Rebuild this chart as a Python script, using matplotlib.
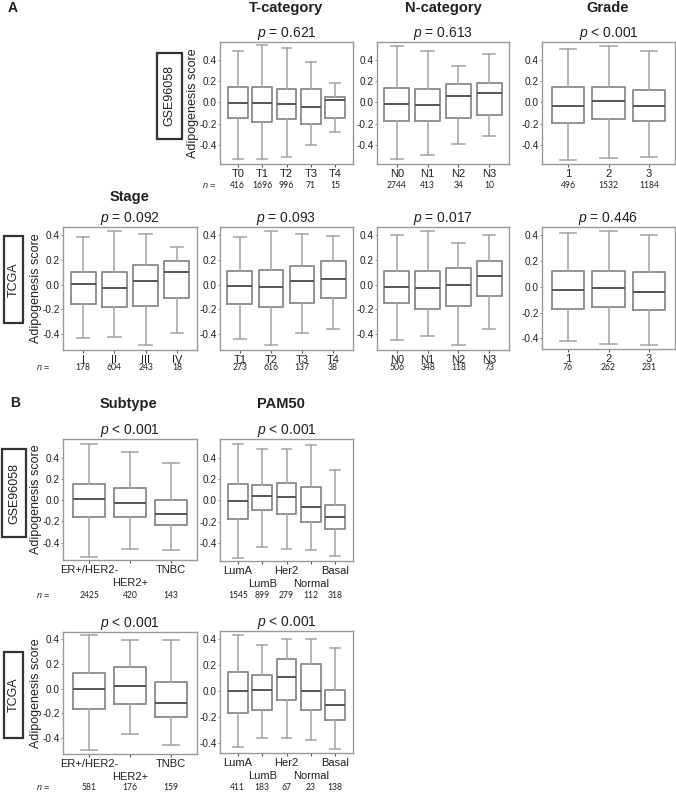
import matplotlib
matplotlib.use('Agg')
import matplotlib.pyplot as plt
from matplotlib.patches import Rectangle

plt.rcParams['font.family'] = ['Liberation Sans', 'DejaVu Sans']
plt.rcParams['mathtext.fontset'] = 'custom'
plt.rcParams['mathtext.it'] = 'Liberation Sans:italic'
plt.rcParams['mathtext.rm'] = 'Liberation Sans'

# ---------------- data ----------------
# GSE96058, panel A
gse_t_cats = ['T0', 'T1', 'T2', 'T3', 'T4']
gse_t_n = [416, 1696, 996, 71, 15]
gse_t_lo = [-0.535, -0.535, -0.516, -0.40, -0.28]
gse_t_q1 = [-0.143, -0.187, -0.158, -0.205, -0.149]
gse_t_med = [-0.008, -0.008, -0.017, -0.039, 0.022]
gse_t_q3 = [0.149, 0.143, 0.13, 0.124, 0.047]
gse_t_hi = [0.488, 0.538, 0.516, 0.384, 0.185]

gse_n_cats = ['N0', 'N1', 'N2', 'N3']
gse_n_n = [2744, 413, 34, 10]
gse_n_lo = [-0.535, -0.494, -0.39, -0.312]
gse_n_q1 = [-0.171, -0.171, -0.149, -0.114]
gse_n_med = [-0.011, -0.024, 0.058, 0.086]
gse_n_q3 = [0.14, 0.13, 0.174, 0.18]
gse_n_hi = [0.535, 0.488, 0.347, 0.46]

gse_g_cats = ['1', '2', '3']
gse_g_n = [496, 1532, 1184]
gse_g_lo = [-0.544, -0.519, -0.513]
gse_g_q1 = [-0.196, -0.155, -0.177]
gse_g_med = [-0.036, 0.011, -0.036]
gse_g_q3 = [0.146, 0.149, 0.115]
gse_g_hi = [0.504, 0.532, 0.488]

# TCGA, panel A
tcga_s_cats = ['I', 'II', 'III', 'IV']
tcga_s_n = [178, 604, 243, 18]
tcga_s_lo = [-0.43, -0.422, -0.489, -0.389]
tcga_s_q1 = [-0.158, -0.179, -0.171, -0.112]
tcga_s_med = [0.001, -0.026, 0.028, 0.098]
tcga_s_q3 = [0.104, 0.104, 0.158, 0.187]
tcga_s_hi = [0.381, 0.435, 0.405, 0.306]

tcga_t_cats = ['T1', 'T2', 'T3', 'T4']
tcga_t_n = [273, 616, 137, 38]
tcga_t_lo = [-0.438, -0.489, -0.389, -0.357]
tcga_t_q1 = [-0.16, -0.179, -0.147, -0.112]
tcga_t_med = [-0.009, -0.023, 0.028, 0.042]
tcga_t_q3 = [0.109, 0.114, 0.15, 0.187]
tcga_t_hi = [0.381, 0.435, 0.405, 0.389]

tcga_n_cats = ['N0', 'N1', 'N2', 'N3']
tcga_n_n = [506, 348, 118, 73]
tcga_n_lo = [-0.451, -0.416, -0.489, -0.357]
tcga_n_q1 = [-0.152, -0.198, -0.176, -0.09]
tcga_n_med = [-0.018, -0.028, -0.001, 0.071]
tcga_n_q3 = [0.106, 0.112, 0.133, 0.193]
tcga_n_hi = [0.403, 0.432, 0.338, 0.40]

tcga_g_cats = ['1', '2', '3']
tcga_g_n = [76, 262, 231]
tcga_g_lo = [-0.421, -0.441, -0.449]
tcga_g_q1 = [-0.173, -0.157, -0.178]
tcga_g_med = [-0.026, -0.01, -0.044]
tcga_g_q3 = [0.119, 0.119, 0.116]
tcga_g_hi = [0.413, 0.434, 0.40]

# panel B
sub_cats = ['ER+/HER2-', 'HER2+', 'TNBC']
pam_cats = ['LumA', 'LumB', 'Her2', 'Normal', 'Basal']

gse_sub_n = [2425, 420, 143]
gse_sub_lo = [-0.538, -0.456, -0.472]
gse_sub_q1 = [-0.155, -0.155, -0.231]
gse_sub_med = [0.008, -0.03, -0.127]
gse_sub_q3 = [0.149, 0.118, 0.005]
gse_sub_hi = [0.529, 0.453, 0.347]

gse_pam_n = [1545, 899, 279, 112, 318]
gse_pam_lo = [-0.538, -0.441, -0.456, -0.466, -0.519]
gse_pam_q1 = [-0.18, -0.089, -0.127, -0.199, -0.268]
gse_pam_med = [-0.008, 0.036, 0.027, -0.061, -0.152]
gse_pam_q3 = [0.149, 0.14, 0.158, 0.127, -0.042]
gse_pam_hi = [0.529, 0.478, 0.478, 0.522, 0.281]

tcga_sub_n = [581, 176, 159]
tcga_sub_lo = [-0.491, -0.365, -0.454]
tcga_sub_q1 = [-0.164, -0.121, -0.231]
tcga_sub_med = [0.0, 0.019, -0.113]
tcga_sub_q3 = [0.129, 0.174, 0.051]
tcga_sub_hi = [0.432, 0.395, 0.395]

tcga_pam_n = [411, 183, 67, 23, 138]
tcga_pam_lo = [-0.436, -0.364, -0.364, -0.379, -0.446]
tcga_pam_q1 = [-0.174, -0.145, -0.071, -0.145, -0.228]
tcga_pam_med = [-0.001, 0.004, 0.107, -0.001, -0.112]
tcga_pam_q3 = [0.143, 0.125, 0.248, 0.204, 0.006]
tcga_pam_hi = [0.433, 0.356, 0.397, 0.40, 0.331]

p_gse_a = ['= 0.621', '= 0.613', '< 0.001']
p_tcga_a = ['= 0.092', '= 0.093', '= 0.017', '= 0.446']
p_b = ['< 0.001', '< 0.001', '< 0.001', '< 0.001']

yticks = [-0.4, -0.2, 0.0, 0.2, 0.4]
ytick_labels = ['-0.4', '-0.2', '0.0', '0.2', '0.4']

# ---------------- styling ----------------
W, H = 676, 792
BOX = '#8a8a8a'
MED = '#555555'
WHIS = '#a9a9a9'
FRAME = '#9a9a9a'
TXT = '#222222'

fig = plt.figure(figsize=(W / 100, H / 100), dpi=100)


def make_ax(l, t, r, b):
    return fig.add_axes([l / W, 1 - b / H, (r - l) / W, (b - t) / H])


def panel(rect, cats, n, lo, q1, med, q3, hi, ylim, ptxt, nofs,
          stagger=False, ylabel=False):
    ax = make_ax(*rect)
    stats = [dict(med=m, q1=a, q3=b, whislo=l, whishi=h, fliers=[])
             for l, a, m, b, h in zip(lo, q1, med, q3, hi)]
    k = len(cats)
    pos = list(range(1, k + 1))
    ax.bxp(stats, positions=pos, widths=0.8, capwidths=0.4, showfliers=False,
           boxprops=dict(color=BOX, lw=1.3),
           medianprops=dict(color=MED, lw=1.4),
           whiskerprops=dict(color=WHIS, lw=1.2),
           capprops=dict(color=WHIS, lw=1.2), manage_ticks=False)
    m = 0.73 if k == 5 else 0.64
    ax.set_xlim(1 - m, k + m)
    ax.set_ylim(*ylim)
    ax.set_xticks(pos)
    tr = ax.get_xaxis_transform()
    if stagger:
        labs = [c if i % 2 == 0 else '' for i, c in enumerate(cats)]
        for i, c in enumerate(cats):
            if i % 2 == 1:
                ax.annotate(c, xy=(pos[i], 0), xycoords=tr, xytext=(0, -23),
                            textcoords='offset pixels', ha='center',
                            va='center', fontsize=8, color=TXT,
                            annotation_clip=False)
    else:
        labs = cats
    ax.set_xticklabels(labs, fontsize=8, color=TXT)
    ax.set_yticks(yticks)
    ax.set_yticklabels(ytick_labels, fontsize=7.2, color=TXT)
    ax.tick_params(axis='x', length=2.2, width=0.8, color='#555555', pad=1.2)
    ax.tick_params(axis='y', length=1.5, width=0.6, color='#777777', pad=1.0)
    for s in ax.spines.values():
        s.set_color(FRAME)
        s.set_linewidth(1.0)
    ax.set_title(r'$p$ ' + ptxt, fontsize=10, pad=2.8, color=TXT)
    for i, v in enumerate(n):
        ax.annotate(str(v), xy=(pos[i], 0), xycoords=tr, xytext=(0, -nofs),
                    textcoords='offset pixels', ha='center', va='center',
                    fontsize=6.2, family=['Lato', 'DejaVu Sans'], color=TXT,
                    annotation_clip=False)
    if ylabel:
        ax.set_ylabel('Adipogenesis score', fontsize=9, color=TXT)
        ax.yaxis.set_label_coords(-0.16, 0.5)
    return ax


def ftext(x, y, s, **kw):
    fig.text(x / W, 1 - y / H, s, **kw)


def label_box(l, t, r, b, s):
    fig.add_artist(Rectangle((l / W, 1 - b / H), (r - l) / W, (b - t) / H,
                             transform=fig.transFigure, fill=False,
                             edgecolor='#333333', lw=1.6))
    ftext((l + r) / 2, (t + b) / 2, s, rotation=90, ha='center', va='center',
          fontsize=9, color=TXT)


def n_eq(x, y):
    ftext(x, y, r'$n$ =', fontsize=6.5, ha='center', va='center', color=TXT)


# Row 1: GSE96058 (A)
panel((220, 42, 353, 164), gse_t_cats, gse_t_n, gse_t_lo, gse_t_q1, gse_t_med,
      gse_t_q3, gse_t_hi, (-0.579, 0.569), p_gse_a[0], 21, ylabel=True)
panel((377, 42, 509, 164), gse_n_cats, gse_n_n, gse_n_lo, gse_n_q1, gse_n_med,
      gse_n_q3, gse_n_hi, (-0.579, 0.569), p_gse_a[1], 21)
panel((542, 42, 675, 164), gse_g_cats, gse_g_n, gse_g_lo, gse_g_q1, gse_g_med,
      gse_g_q3, gse_g_hi, (-0.579, 0.569), p_gse_a[2], 21)

# Row 2: TCGA (A)
panel((63, 227, 197, 350), tcga_s_cats, tcga_s_n, tcga_s_lo, tcga_s_q1,
      tcga_s_med, tcga_s_q3, tcga_s_hi, (-0.529, 0.465), p_tcga_a[0], 18,
      ylabel=True)
panel((220, 227, 353, 350), tcga_t_cats, tcga_t_n, tcga_t_lo, tcga_t_q1,
      tcga_t_med, tcga_t_q3, tcga_t_hi, (-0.529, 0.465), p_tcga_a[1], 18)
panel((377, 227, 509, 350), tcga_n_cats, tcga_n_n, tcga_n_lo, tcga_n_q1,
      tcga_n_med, tcga_n_q3, tcga_n_hi, (-0.529, 0.465), p_tcga_a[2], 18)
panel((542, 227, 675, 349), tcga_g_cats, tcga_g_n, tcga_g_lo, tcga_g_q1,
      tcga_g_med, tcga_g_q3, tcga_g_hi, (-0.482, 0.462), p_tcga_a[3], 18)

# Row 3: GSE96058 (B)
panel((63, 439, 197, 560), sub_cats, gse_sub_n, gse_sub_lo, gse_sub_q1,
      gse_sub_med, gse_sub_q3, gse_sub_hi, (-0.563, 0.576), p_b[0], 35,
      stagger=True, ylabel=True)
panel((220, 439, 353, 561), pam_cats, gse_pam_n, gse_pam_lo, gse_pam_q1,
      gse_pam_med, gse_pam_q3, gse_pam_hi, (-0.57, 0.576), p_b[1], 34,
      stagger=True)

# Row 4: TCGA (B)
panel((63, 632, 197, 754), sub_cats, tcga_sub_n, tcga_sub_lo, tcga_sub_q1,
      tcga_sub_med, tcga_sub_q3, tcga_sub_hi, (-0.526, 0.456), p_b[2], 33,
      stagger=True, ylabel=True)
panel((220, 631, 353, 753), pam_cats, tcga_pam_n, tcga_pam_lo, tcga_pam_q1,
      tcga_pam_med, tcga_pam_q3, tcga_pam_hi, (-0.48, 0.462), p_b[3], 34,
      stagger=True)

# headings
bold = dict(fontsize=10.5, fontweight='bold', ha='center', va='baseline',
            color=TXT)
ftext(286, 12, 'T-category', **bold)
ftext(443, 12, 'N-category', **bold)
ftext(608, 12, 'Grade', **bold)
ftext(130, 201, 'Stage', **bold)
ftext(128, 408, 'Subtype', **bold)
ftext(281, 408, 'PAM50', **bold)
ftext(8, 12, 'A', fontsize=10, fontweight='bold', ha='left', va='baseline',
      color=TXT)
ftext(10, 407, 'B', fontsize=10, fontweight='bold', ha='left', va='baseline',
      color=TXT)

# cohort boxes
label_box(157, 53, 182, 139, 'GSE96058')
label_box(4, 236, 23, 323, 'TCGA')
label_box(2, 449, 26, 537, 'GSE96058')
label_box(4, 652, 23, 738, 'TCGA')

# n = labels
n_eq(209, 185)
n_eq(43, 368)
n_eq(43, 595)
n_eq(43, 787)

fig.savefig('out.png', dpi=100)
